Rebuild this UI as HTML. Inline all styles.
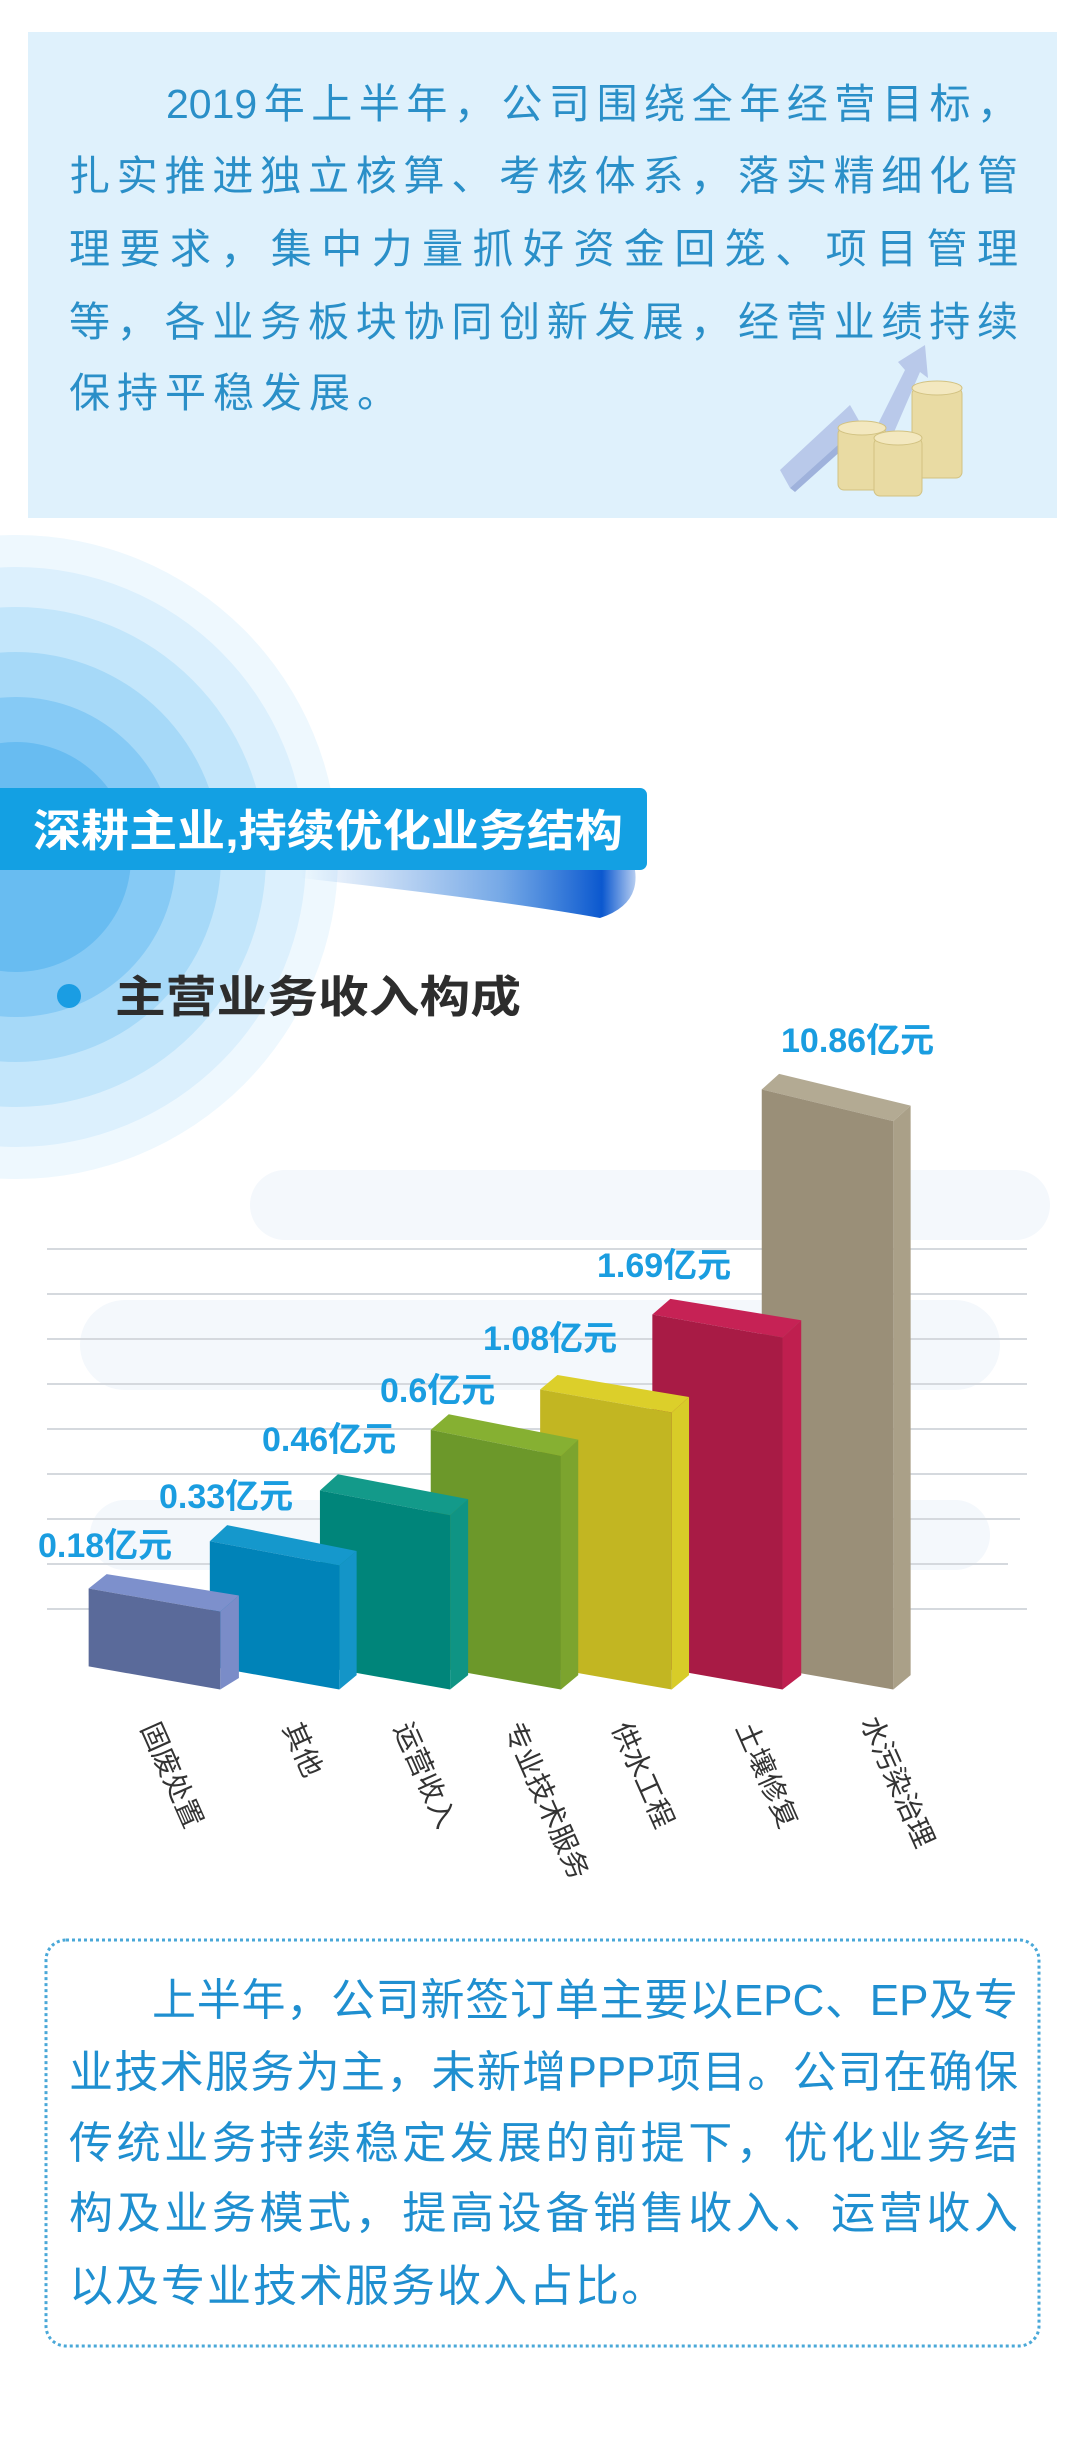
<!DOCTYPE html>
<html><head><meta charset="utf-8">
<style>
*{margin:0;padding:0;box-sizing:border-box}
body{width:1080px;height:2454px;background:#fff;position:relative;overflow:hidden;font-family:"Liberation Sans","Noto Sans CJK SC",sans-serif}
.abs{position:absolute}
.topbox{left:28px;top:32px;width:1029px;height:486px;background:#dff1fc}
.tl{position:absolute;left:69px;width:949px;font-size:41px;color:#2a8fc8;white-space:nowrap;height:50px;line-height:50px;text-align:justify;text-align-last:justify}
.bl{position:absolute;left:69px;width:949px;font-size:44px;color:#1f8fd0;white-space:nowrap;height:54px;line-height:54px;text-align:justify;text-align-last:justify}
</style></head><body>

<div class="abs topbox"></div>
<div class="tl" style="top:79px;left:166px;width:852px">2019年上半年，公司围绕全年经营目标，</div>
<div class="tl" style="top:151px">扎实推进独立核算、考核体系，落实精细化管</div>
<div class="tl" style="top:224px">理要求，集中力量抓好资金回笼、项目管理</div>
<div class="tl" style="top:297px">等，各业务板块协同创新发展，经营业绩持续</div>
<div class="tl" style="top:368px;text-align-last:left;letter-spacing:7px;width:auto">保持平稳发展。</div>

<svg class="abs" style="left:0;top:0" width="1080" height="2454" viewBox="0 0 1080 2454">
  <!-- coins graphic -->
  <polygon points="780,470 850,405 870,440 905,370 898,362 925,345 928,378 920,372 882,460 860,425 790,488" fill="#b9c9ea"/>
  <polygon points="790,488 860,425 862,432 795,492" fill="#9fb2dc"/>
  <g fill="#e9dba3" stroke="#d2c282" stroke-width="1">
    <rect x="912" y="388" width="50" height="90" rx="6"/>
    <ellipse cx="937" cy="388" rx="25" ry="7" fill="#f3e8bf"/>
    <rect x="838" y="428" width="48" height="62" rx="6"/>
    <ellipse cx="862" cy="428" rx="24" ry="7" fill="#f3e8bf"/>
    <rect x="874" y="438" width="48" height="58" rx="6"/>
    <ellipse cx="898" cy="438" rx="24" ry="7" fill="#f3e8bf"/>
  </g>
  <!-- concentric circles -->
  <circle cx="16" cy="857" r="322" fill="#eef8fe"/>
  <circle cx="16" cy="857" r="290" fill="#dcf0fd"/>
  <circle cx="16" cy="857" r="250" fill="#c3e6fb"/>
  <circle cx="16" cy="857" r="205" fill="#a6d9f8"/>
  <circle cx="16" cy="857" r="160" fill="#86caf5"/>
  <circle cx="16" cy="857" r="115" fill="#68bcf1"/>
  <!-- swoosh -->
  <defs>
    <linearGradient id="sw" x1="0" x2="1" y1="0" y2="0">
      <stop offset="0" stop-color="#1a6fd6" stop-opacity="0"/>
      <stop offset="0.6" stop-color="#1a6fd6" stop-opacity="0.6"/>
      <stop offset="0.9" stop-color="#0b58cf" stop-opacity="1"/>
      <stop offset="1" stop-color="#0b58cf" stop-opacity="0.3"/>
    </linearGradient>
  </defs>
  <path d="M300,870 L635,870 Q640,905 600,918 Q500,900 300,878 Z" fill="url(#sw)"/>
  <rect x="-10" y="788" width="657" height="82" rx="7" fill="#13a0e3"/>
  <text x="33" y="846" font-size="44" font-weight="bold" fill="#fff" font-family="'Liberation Sans','Noto Sans CJK SC',sans-serif" textLength="590" lengthAdjust="spacingAndGlyphs">深耕主业,持续优化业务结构</text>
  <!-- heading -->
  <circle cx="69" cy="996" r="12" fill="#1a9de3"/>
  <text x="115" y="1012" font-size="44" font-weight="bold" fill="#2d2d2d" font-family="'Liberation Sans','Noto Sans CJK SC',sans-serif" textLength="406" lengthAdjust="spacingAndGlyphs">主营业务收入构成</text>

  <!-- faint cloud background -->
  <rect x="250" y="1170" width="800" height="70" rx="35" fill="#f4f8fc"/>
  <rect x="80" y="1300" width="920" height="90" rx="45" fill="#f4f8fc"/>
  <rect x="90" y="1500" width="900" height="70" rx="35" fill="#f4f8fc"/>

  <!-- gridlines -->
  <g stroke="#d5d9de" stroke-width="2">
    <line x1="47" y1="1249" x2="1027" y2="1249"/>
    <line x1="47" y1="1294" x2="1027" y2="1294"/>
    <line x1="47" y1="1339" x2="1027" y2="1339"/>
    <line x1="47" y1="1384" x2="1027" y2="1384"/>
    <line x1="47" y1="1429" x2="1027" y2="1429"/>
    <line x1="47" y1="1474" x2="1027" y2="1474"/>
    <line x1="47" y1="1519" x2="1020" y2="1519"/>
    <line x1="47" y1="1564" x2="1008" y2="1564"/>
    <line x1="47" y1="1609" x2="1027" y2="1609"/>
  </g>

  <!-- bars (zoom coordinate space) drawn right to left -->
  <g transform="translate(0,1000) scale(0.6925,0.577)">
    <!-- 7 gray -->
    <polygon points="1100,155 1290,210 1315,183 1125,128" fill="#b3aa93"/>
    <polygon points="1290,210 1315,183 1315,1170 1290,1195" fill="#aaa088"/>
    <polygon points="1100,155 1290,210 1290,1195 1100,1155" fill="#9a8f78"/>
    <!-- 6 red -->
    <polygon points="942,545 1130,585 1157,555 968,518" fill="#c62255"/>
    <polygon points="1130,585 1157,555 1157,1170 1130,1195" fill="#bf1f4f"/>
    <polygon points="942,545 1130,585 1130,1195 942,1155" fill="#a81b45"/>
    <!-- 5 yellow -->
    <polygon points="780,675 970,715 995,688 805,650" fill="#dccf2a"/>
    <polygon points="970,715 995,688 995,1170 970,1195" fill="#d8cc28"/>
    <polygon points="780,675 970,715 970,1195 780,1155" fill="#c2b622"/>
    <!-- 4 green -->
    <polygon points="622,745 810,790 835,762 648,718" fill="#86b032"/>
    <polygon points="810,790 835,762 835,1170 810,1195" fill="#7ca42e"/>
    <polygon points="622,745 810,790 810,1195 622,1155" fill="#6c982a"/>
    <!-- 3 teal -->
    <polygon points="462,850 650,893 676,865 488,822" fill="#139a8a"/>
    <polygon points="650,893 676,865 676,1170 650,1195" fill="#0f9484"/>
    <polygon points="462,850 650,893 650,1195 462,1155" fill="#00857a"/>
    <!-- 2 blue -->
    <polygon points="303,938 490,980 515,955 328,910" fill="#1598cc"/>
    <polygon points="490,980 515,955 515,1170 490,1195" fill="#1495c8"/>
    <polygon points="303,938 490,980 490,1195 303,1155" fill="#0083b8"/>
    <!-- 1 purple -->
    <polygon points="128,1020 318,1060 345,1032 154,995" fill="#7d90cc"/>
    <polygon points="318,1060 345,1032 345,1175 318,1195" fill="#7a8cc8"/>
    <polygon points="128,1020 318,1060 318,1195 128,1155" fill="#5a6a9a"/>
  </g>

  <!-- value labels -->
  <g font-size="34" font-weight="bold" fill="#1a9de0" font-family="'Liberation Sans','Noto Sans CJK SC',sans-serif">
    <text x="38" y="1557">0.18亿元</text>
    <text x="159" y="1508">0.33亿元</text>
    <text x="262" y="1451">0.46亿元</text>
    <text x="380" y="1402">0.6亿元</text>
    <text x="483" y="1350">1.08亿元</text>
    <text x="597" y="1277">1.69亿元</text>
    <text x="781" y="1052">10.86亿元</text>
  </g>

  <!-- category labels -->
  <g font-size="28" fill="#333" font-family="'Liberation Sans','Noto Sans CJK SC',sans-serif" dominant-baseline="central">
    <text transform="translate(149,1724) rotate(66)">固废处置</text>
    <text transform="translate(291,1724) rotate(66)">其他</text>
    <text transform="translate(402,1724) rotate(66)">运营收入</text>
    <text transform="translate(512,1724) rotate(66)">专业技术服务</text>
    <text transform="translate(620,1724) rotate(66)">供水工程</text>
    <text transform="translate(744,1724) rotate(66)">土壤修复</text>
    <text transform="translate(869,1718) rotate(66)">水污染治理</text>
  </g>

  <!-- bottom dotted box -->
  <rect x="46" y="1940" width="993" height="406" rx="20" fill="none" stroke="#4aa8d8" stroke-width="3" stroke-dasharray="3,3"/>
</svg>

<div class="bl" style="top:1974px;left:152px;width:866px">上半年，公司新签订单主要以EPC、EP及专</div>
<div class="bl" style="top:2046px">业技术服务为主，未新增PPP项目。公司在确保</div>
<div class="bl" style="top:2117px">传统业务持续稳定发展的前提下，优化业务结</div>
<div class="bl" style="top:2187px">构及业务模式，提高设备销售收入、运营收入</div>
<div class="bl" style="top:2260px;text-align-last:left;width:auto;letter-spacing:2px">以及专业技术服务收入占比。</div>

</body></html>
